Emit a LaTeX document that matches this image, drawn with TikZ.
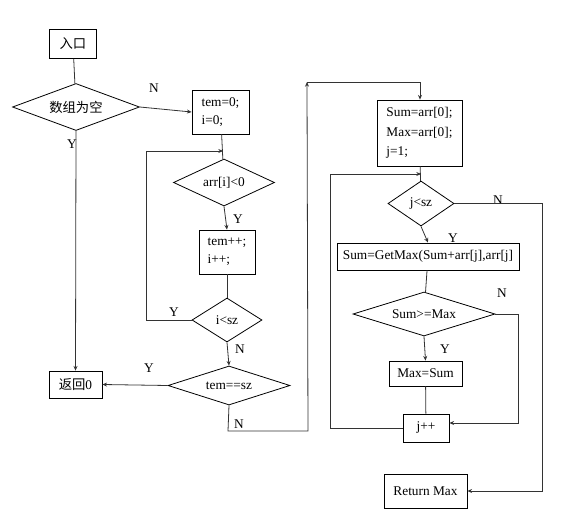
\documentclass[tikz,border=0pt]{standalone}
\usepackage{fontspec}
\setmainfont{Liberation Serif}
\newfontfamily\cjk{Noto Sans CJK SC}
\usetikzlibrary{shapes.geometric}
\usetikzlibrary{arrows.meta}
\usetikzlibrary{positioning}
\tikzset{step node/.style={rectangle,draw,line width=0.6pt,inner sep=0pt,font=\fontsize{10}{13.5}\selectfont},}
\tikzset{test node/.style={diamond,draw,line width=0.6pt,inner sep=0pt,font=\fontsize{10}{12}\selectfont},}
\tikzset{yn node/.style={inner sep=0pt,font=\fontsize{10}{12}\selectfont},}
\tikzset{flow/.style={color=black!80,line width=0.6pt,>={Stealth[length=3.5pt,width=3pt]}},}

\begin{document}
\begin{tikzpicture}[x=0.75pt,y=-0.75pt]
     \useasboundingbox (0,0) rectangle (569,511);
     % left column
     \node[step node,minimum width=35.25pt,minimum height=21.75pt] (start) at (73,44) {\cjk 入口};
     \node[test node,shape aspect=2.7,minimum width=95.25pt,minimum height=35.25pt] (empty) at (76,107) {\cjk 数组为空};
     \node[step node,minimum width=39.75pt,minimum height=20.25pt] (ret0) at (75.5,384.5) {{\cjk 返回}0};
     % first loop
     \node[step node,minimum width=42.75pt,minimum height=33pt,align=left] (init) at (220.5,112) {tem=0;\\i=0;};
     \node[test node,shape aspect=2.15,minimum width=75.75pt,minimum height=35.25pt] (neg) at (224,182.5) {arr[i]<0};
     \node[step node,minimum width=42pt,minimum height=33pt,align=left] (inc) at (227,252) {tem++;\\i++;};
     \node[test node,shape aspect=1.6,minimum width=52.5pt,minimum height=33pt] (lt) at (227,320) {i<sz};
     \node[test node,shape aspect=3.1,minimum width=91.5pt,minimum height=29.25pt] (eq) at (229,385.5) {tem==sz};
     % second loop
     \node[step node,minimum width=63.75pt,minimum height=49.5pt,align=left,font=\fontsize{10}{14.6}\selectfont] (sinit) at (419.5,133) {Sum=arr[0];\\Max=arr[0];\\j=1;};
     \node[test node,shape aspect=1.47,minimum width=49.5pt,minimum height=33.75pt] (jlt) at (421,203.5) {j<sz};
     \node[step node,minimum width=136.5pt,minimum height=20.25pt] (getmax) at (428,256.5) {Sum=GetMax(Sum+arr[j],arr[j]};
     \node[test node,shape aspect=3.2,minimum width=106.5pt,minimum height=33pt] (ge) at (424,314) {Sum>=Max};
     \node[step node,minimum width=54.75pt,minimum height=18.75pt] (upd) at (425.5,373.5) {Max=Sum};
     \node[step node,minimum width=34.5pt,minimum height=21pt] (jinc) at (426,428) {j++};
     \node[step node,minimum width=62.25pt,minimum height=25.5pt] (retmax) at (425.5,491) {Return Max};

     % Y / N labels
     \node[yn node] (n1) at (154,88) {N};
     \node[yn node] (y1) at (72,144) {Y};
     \node[yn node] (y2) at (238,219) {Y};
     \node[yn node] (y3) at (174,312) {Y};
     \node[yn node] (n2) at (240,349) {N};
     \node[yn node] (y4) at (149,368) {Y};
     \node[yn node] (n3) at (239,424) {N};
     \node[yn node] (n4) at (498,200) {N};
     \node[yn node] (y5) at (453,238) {Y};
     \node[yn node] (n5) at (502,293) {N};
     \node[yn node] (y6) at (445,349) {Y};

     \coordinate (back1) at (223,151);
     \coordinate (corner) at (307,82);
     \coordinate (back2) at (421,174);

     \path[flow]
     (start) edge node {} (empty)
     (init) edge node {} (neg)
     (inc) edge node {} (lt)
     (sinit) edge node {} (jlt)
     (getmax) edge node {} (ge)
     (upd) edge node {} (jinc);
     \path[flow,->]
     (empty.east) edge node {} (init.west)
     (empty.south) edge node {} (ret0.north)
     (neg.south) edge node {} (inc.north)
     (lt.south) edge node {} (eq.north)
     (eq.west) edge node {} (ret0.east)
     (jlt.south) edge node {} (getmax.north)
     (ge.south) edge node {} (upd.north);

     \draw[flow,->] (lt.west) -- (146,320) -- (146,151) -- (back1);
     \draw[flow,->] (eq.south) -- (228,431) -- (308,431) -- (corner);
     \draw[flow,->] (corner) -- (420,82) -- (sinit.north -| 420,82);
     \draw[flow,->] (jinc.west) -- (330,428) -- (330,174) -- (back2);
     \draw[flow,->] (jlt.east) -- (542,203.5) -- (542,491) -- (retmax.east);
     \draw[flow,->] (ge.east) -- (518,314) -- (518,423) -- (jinc.east |- 518,423);
  \end{tikzpicture}
\end{document}
